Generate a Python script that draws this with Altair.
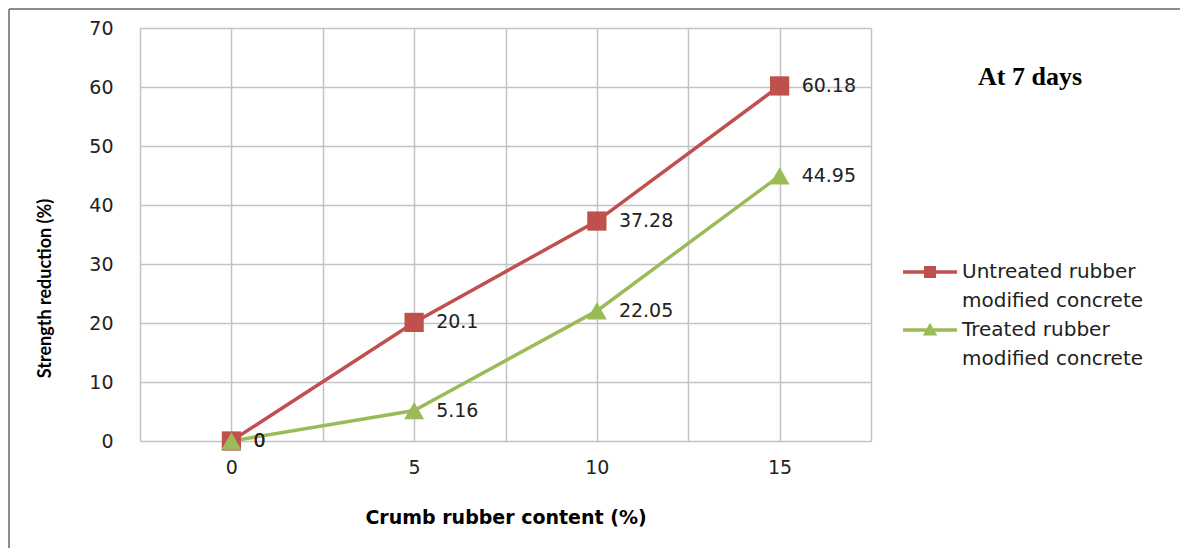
import altair as alt
import pandas as pd

# ---- data ----
content = [0, 5, 10, 15]
untreated = [0, 20.1, 37.28, 60.18]
treated = [0, 5.16, 22.05, 44.95]
series_names = ["Untreated rubber modified concrete", "Treated rubber modified concrete"]
colors = ["#C0504D", "#9BBB59"]
marker_shapes = ["square", "triangle-up"]
x_grid = [-2.5, 0, 2.5, 5, 7.5, 10, 12.5, 15, 17.5]
y_ticks = [0, 10, 20, 30, 40, 50, 60, 70]

rows = []
for s, vals in zip(series_names, [untreated, treated]):
    for c, v in zip(content, vals):
        rows.append({"content": c, "value": v, "series": s})
df = pd.DataFrame(rows)

NUM_FONT = "DejaVu Sans"

x_enc = alt.X(
    "content:Q",
    scale=alt.Scale(domain=[-2.5, 17.5], nice=False, zero=False),
    axis=alt.Axis(
        values=x_grid,
        labelExpr="datum.value % 5 == 0 ? datum.label : ''",
        title="Crumb rubber content (%)",
        titleFont="DejaVu Sans", titleFontSize=19, titleFontWeight="bold",
        titleColor="#000000", titleY=67, titleBaseline="top",
        labelFont=NUM_FONT, labelFontSize=19, labelColor="#222222",
        labelPadding=17, ticks=False, domain=False,
        grid=True, gridColor="#C3C3C3", gridWidth=1.5,
    ),
)
y_enc = alt.Y(
    "value:Q",
    scale=alt.Scale(domain=[0, 70], nice=False),
    axis=alt.Axis(
        values=y_ticks,
        title="Strength reduction (%)",
        titleFont="Lato", titleFontSize=18, titleFontWeight="bold",
        titleColor="#000000", titleX=-95, titleY=260, titleAngle=-90,
        titleAlign="center", titleBaseline="middle",
        labelFont=NUM_FONT, labelFontSize=19, labelColor="#222222",
        labelPadding=27, ticks=False, domain=False,
        grid=True, gridColor="#C3C3C3", gridWidth=1.5,
    ),
)

# legend symbols: line (thin filled bar) + marker (unit = 15 px)
sq_path = "M-1.8,-0.11H1.8V0.11H-1.8ZM-0.4,-0.4H0.4V0.4H-0.4Z"
tri_path = "M-1.8,-0.11H1.8V0.11H-1.8ZM0,-0.48L0.48,0.36L-0.48,0.36Z"

legend = alt.Legend(
    title=None, orient="none", legendX=775, legendY=229, padding=0,
    symbolSize=900, symbolOpacity=1, symbolStrokeWidth=0,
    labelFont=NUM_FONT, labelFontSize=20, labelColor="#222222", labelLimit=0,
    labelOffset=17, rowPadding=4, labelBaseline="middle",
    labelExpr="datum.value === 'Untreated rubber modified concrete' ? ['Untreated rubber', 'modified concrete'] : ['Treated rubber', 'modified concrete']",
)

base = alt.Chart(df)

series_layers = []
for name, col, shp in zip(series_names, colors, marker_shapes):
    sub = base.transform_filter(alt.datum.series == name)
    series_layers.append(sub.mark_line(strokeWidth=3.5, color=col).encode(x=x_enc, y=y_enc))
for name, col, shp in zip(series_names, colors, marker_shapes):
    sub = base.transform_filter(alt.datum.series == name)
    series_layers.append(
        sub.mark_point(filled=True, opacity=1, color=col, shape=shp,
                       size=370 if shp == "square" else 400).encode(x=x_enc, y=y_enc)
    )

legend_layer = base.mark_point(filled=True, opacity=0).encode(
    x=x_enc, y=y_enc,
    color=alt.Color("series:N", scale=alt.Scale(domain=series_names, range=colors), legend=legend),
    shape=alt.Shape("series:N", scale=alt.Scale(domain=series_names, range=[sq_path, tri_path]), legend=legend),
)

labels = base.mark_text(align="left", baseline="middle", dx=22, font=NUM_FONT, fontSize=19, color="#222222").encode(
    x=x_enc, y=y_enc,
    text=alt.Text("value:Q", format="~f"),
)

title_df = pd.DataFrame({"t": ["At 7 days"]})
title = alt.Chart(title_df).mark_text(
    font="Liberation Serif", fontSize=26, fontWeight="bold", color="#000000",
    align="center", baseline="alphabetic",
).encode(text="t:N", x=alt.value(890), y=alt.value(57))

frame_df = pd.DataFrame({"a": [0]})
top_border = alt.Chart(frame_df).mark_rule(color="#8C8C8C", strokeWidth=2).encode(
    x=alt.value(-131), x2=alt.value(1040), y=alt.value(-19)
)
left_border = alt.Chart(frame_df).mark_rule(color="#8C8C8C", strokeWidth=2).encode(
    x=alt.value(-131), y=alt.value(-19), y2=alt.value(520)
)

chart = alt.layer(top_border, left_border, *series_layers, legend_layer, labels, title).properties(
    width=731, height=413,
    autosize=alt.AutoSizeParams(type="none"),
    padding={"left": 132, "top": 20, "right": 309, "bottom": 109},
    background="#FFFFFF",
).configure_view(stroke="#B5B5B5", strokeWidth=2).configure(
    style={"guide-label": {"lineHeight": 29}}
)

chart.save("out.html", embed_options={"renderer": "svg", "actions": False})
